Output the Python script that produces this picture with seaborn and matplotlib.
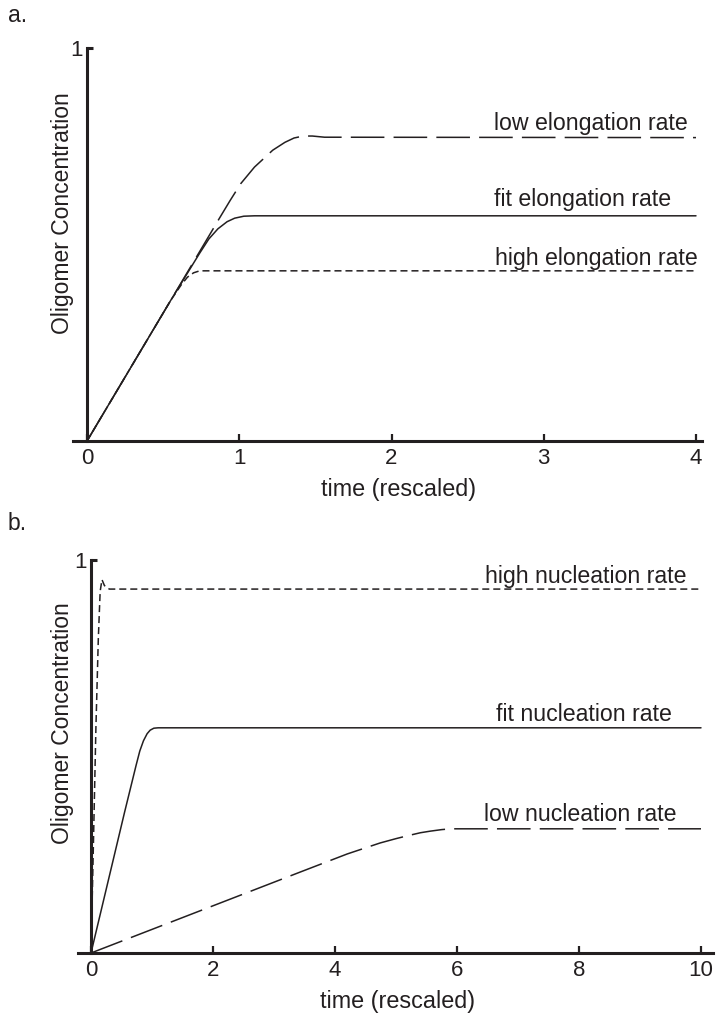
import numpy as np
import pandas as pd
import matplotlib
matplotlib.use("Agg")
import matplotlib.pyplot as plt
import seaborn as sns

sns.set_style("ticks")
plt.rcParams['font.family'] = ['Liberation Sans', 'DejaVu Sans']

INK = '#231f20'

# ---- panel a: elongation rate curves (time rescaled, 0-4) ----
fit_t = [0, 0.55, 0.74, 0.80, 0.86, 0.92, 0.97, 1.03, 1.1, 4.0]
fit_c = [0, 0.358, 0.478, 0.514, 0.540, 0.558, 0.567, 0.572, 0.573, 0.573]

low_el_t = [0, 0.55, 0.87, 0.94, 1.01, 1.10, 1.22, 1.30, 1.36, 1.42, 1.48, 1.56, 4.0]
low_el_c = [0, 0.358, 0.567, 0.612, 0.655, 0.697, 0.740, 0.760, 0.771, 0.776, 0.776, 0.773, 0.772]

high_el_t = [0, 0.55, 0.62, 0.66, 0.70, 0.74, 4.0]
high_el_c = [0, 0.358, 0.398, 0.417, 0.428, 0.433, 0.433]

# ---- panel b: nucleation rate curves (time rescaled, 0-10) ----
fit_nu_t = [0, 0.55, 0.74, 0.80, 0.86, 0.92, 0.97, 1.03, 1.1, 10.0]
fit_nu_c = [0, 0.358, 0.478, 0.514, 0.540, 0.558, 0.567, 0.572, 0.573, 0.573]

high_nu_t = [0, 0.04, 0.08, 0.12, 0.15, 0.18, 0.22, 0.3, 10.0]
high_nu_c = [0, 0.28, 0.57, 0.80, 0.92, 0.95, 0.935, 0.926, 0.926]

low_nu_t = [0, 3.43, 4.2, 4.74, 5.0, 5.18, 5.4, 5.56, 5.75, 5.9, 10.0]
low_nu_c = [0, 0.206, 0.252, 0.280, 0.291, 0.298, 0.306, 0.310, 0.314, 0.316, 0.316]

a_ticks = [0, 1, 2, 3, 4]
b_ticks = [0, 2, 4, 6, 8, 10]

# dash specs (in linewidth units)
dash_styles = {'fit': '', 'low': (22, 6), 'high': (4.6, 2.6)}


def make_df(curves):
    rows = []
    for name, t, c in curves:
        rows.append(pd.DataFrame({'time': t, 'conc': c, 'curve': name}))
    return pd.concat(rows, ignore_index=True)


df_a = make_df([('low', low_el_t, low_el_c),
                ('fit', fit_t, fit_c),
                ('high', high_el_t, high_el_c)])
df_b = make_df([('high', high_nu_t, high_nu_c),
                ('fit', fit_nu_t, fit_nu_c),
                ('low', low_nu_t, low_nu_c)])

fig = plt.figure(figsize=(7.26, 10.22), dpi=100)
W, H = 726, 1022
ax_a = fig.add_axes([73 / W, 1 - 441 / H, 629 / W, 393 / H])
ax_b = fig.add_axes([78 / W, 1 - 953 / H, 635 / W, 393 / H])

for ax, df in [(ax_a, df_a), (ax_b, df_b)]:
    sns.lineplot(data=df, x='time', y='conc', style='curve', dashes=dash_styles,
                 color=INK, linewidth=1.1, estimator=None, sort=False,
                 legend=False, ax=ax)

ax_a.set_xlim(-14 / 152, 4 + 6 / 152)
ax_b.set_xlim(-13 / 61, 10 + 12 / 61)

for ax, ticks in [(ax_a, a_ticks), (ax_b, b_ticks)]:
    ax.set_ylim(0, 1)
    ax.set_xticks(ticks)
    ax.set_xticklabels([str(t) for t in ticks])
    ax.set_yticks([1])
    ax.set_yticklabels(['1'])
    ax.spines['left'].set_position(('data', 0))
    ax.spines['right'].set_visible(False)
    ax.spines['top'].set_visible(False)
    for s in ['left', 'bottom']:
        ax.spines[s].set_linewidth(2.2)
        ax.spines[s].set_color(INK)
    ax.tick_params(axis='x', direction='in', length=5, width=1.6, pad=5,
                   labelsize=16, colors=INK)
    ax.tick_params(axis='y', direction='in', length=4.5, width=2.2, pad=3,
                   labelsize=16, colors=INK)
    ax.set_xlabel('time (rescaled)', fontsize=16.8, color=INK)
    ax.set_ylabel('Oligomer Concentration', fontsize=16.5, color=INK)
    ax.patch.set_visible(False)

ax_a.xaxis.set_label_coords(0.517, -0.095)
ax_b.xaxis.set_label_coords(0.504, -0.095)
ax_a.yaxis.set_label_coords(0.002, 0.58)
ax_b.yaxis.set_label_coords(-0.006, 0.585)

txt = dict(fontsize=16.7, color=INK, ha='left', va='baseline')
ax_a.text(2.67, 0.791, 'low elongation rate', **txt)
ax_a.text(2.67, 0.598, 'fit elongation rate', **txt)
ax_a.text(2.68, 0.448, 'high elongation rate', **txt)
ax_b.text(6.46, 0.941, 'high nucleation rate', **txt)
ax_b.text(6.64, 0.591, 'fit nucleation rate', **txt)
ax_b.text(6.44, 0.336, 'low nucleation rate', **txt)

fig.text(8 / W, 1 - 16 / H, 'a.', fontsize=16.5, color=INK, ha='left', va='center')
fig.text(8 / W, 1 - 523 / H, 'b.', fontsize=16.5, color=INK, ha='left', va='center')

fig.savefig('out.png', dpi=100)
